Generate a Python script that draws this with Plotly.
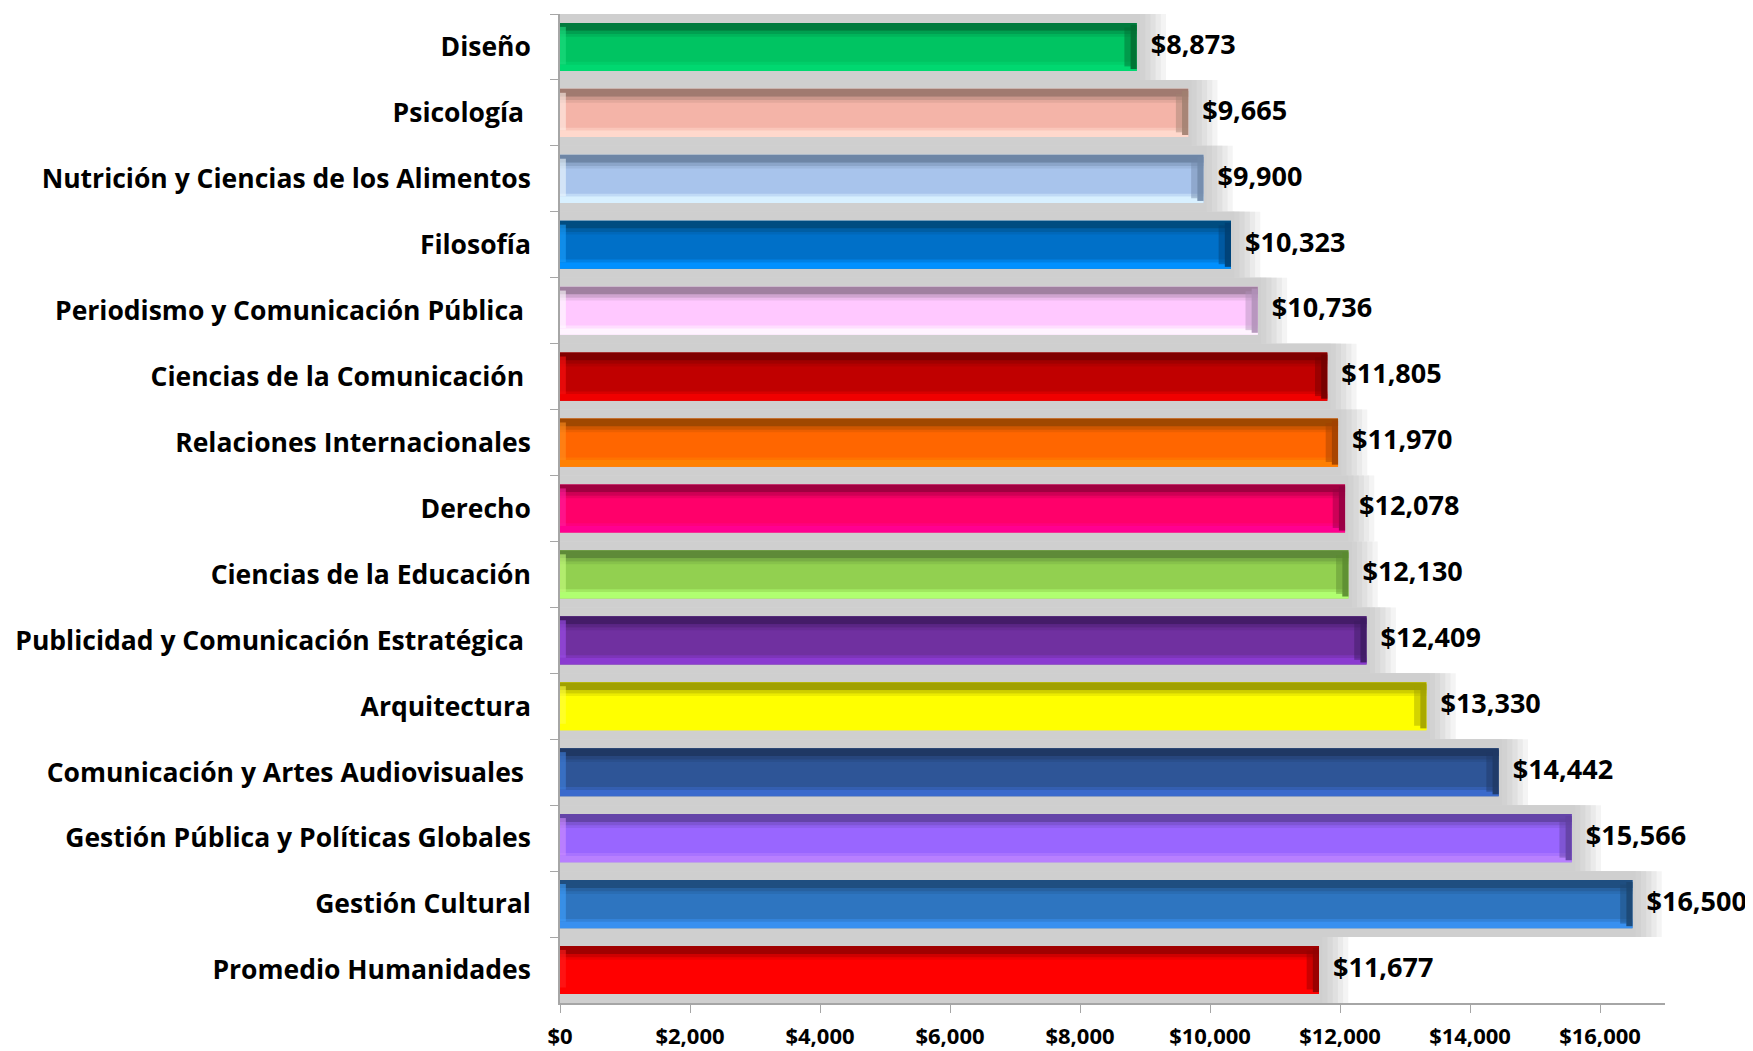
import plotly.graph_objects as go

categories = [
    "Diseño",
    "Psicología\u00a0",
    "Nutrición y Ciencias de los Alimentos",
    "Filosofía",
    "Periodismo y Comunicación Pública\u00a0",
    "Ciencias de la Comunicación\u00a0",
    "Relaciones Internacionales",
    "Derecho",
    "Ciencias de la Educación",
    "Publicidad y Comunicación Estratégica\u00a0",
    "Arquitectura",
    "Comunicación y Artes Audiovisuales\u00a0",
    "Gestión Pública y Políticas Globales",
    "Gestión Cultural",
    "Promedio Humanidades",
]
values = [8873, 9665, 9900, 10323, 10736, 11805, 11970, 12078, 12130, 12409, 13330, 14442, 15566, 16500, 11677]

main_colors = ["#00C462", "#F4B4A8", "#A8C4EC", "#0070C8", "#FFC8FF", "#C00000", "#FF6600", "#FF006A",
               "#92D050", "#7030A0", "#FFFF00", "#2E5597", "#9966FF", "#2E75C0", "#FF0000"]
top_colors = ["#007A3D", "#A07A70", "#6E86A6", "#004C80", "#A080A0", "#800000", "#A04800", "#A00040",
              "#5E8A38", "#441C68", "#A0A000", "#1F3864", "#6444A8", "#1F4E80", "#A00000"]
bottom_colors = ["#00D870", "#FFD8CC", "#D8F0FF", "#0090FF", "#FFF4FF", "#F00000", "#FF8000", "#FF0090",
                 "#B0FF70", "#8A3AD0", "#FFFF00", "#3A6ACC", "#B880FF", "#3890F0", "#FF0000"]
end_colors = ["#006A30", "#A08070", "#7088A8", "#003E70", "#B090B8", "#700000", "#A04000", "#900040",
              "#5A8A30", "#3C1A60", "#A0A000", "#1F3864", "#6040A0", "#1C4670", "#900000"]
left_colors = ["#20E080", "#FFF0EA", "#F0FAFF", "#1AA0FF", "#FFFFFF", "#FF1010", "#FF9020", "#FF20A0",
               "#C8FF80", "#A050F0", "#FFFF40", "#4080E0", "#D090FF", "#40A0FF", "#FF2020"]

x_ticks = [0, 2000, 4000, 6000, 8000, 10000, 12000, 14000, 16000]
x_tick_labels = ["$0", "$2,000", "$4,000", "$6,000", "$8,000", "$10,000", "$12,000", "$14,000", "$16,000"]

FONT = "Open Sans"
BAR_W = 0.73
half = BAR_W / 2

fig = go.Figure()

# soft grey shadow behind each bar
for ext, col in [(450, "#F4F4F4"), (370, "#EAEAEA"), (290, "#E0E0E0"), (210, "#D8D8D8"), (130, "#D2D2D2"), (50, "#CFCFCF")]:
    fig.add_trace(go.Bar(y=categories, x=[v + ext for v in values], orientation="h", width=1.0,
                         marker=dict(color=col, line=dict(width=0)), hoverinfo="skip", showlegend=False))

# main bar
fig.add_trace(go.Bar(y=categories, x=values, orientation="h", width=BAR_W,
                     marker=dict(color=main_colors, line=dict(width=0)), showlegend=False))
# top dark strip (reversed axis: negative offset is on top)
fig.add_trace(go.Bar(y=categories, x=values, orientation="h", width=0.12, offset=-half,
                     marker=dict(color=top_colors, line=dict(width=0)), hoverinfo="skip", showlegend=False))
fig.add_trace(go.Bar(y=categories, x=values, orientation="h", width=0.05, offset=-half + 0.12,
                     marker=dict(color=top_colors, opacity=0.5, line=dict(width=0)), hoverinfo="skip", showlegend=False))
fig.add_trace(go.Bar(y=categories, x=values, orientation="h", width=0.04, offset=-half + 0.17,
                     marker=dict(color=top_colors, opacity=0.2, line=dict(width=0)), hoverinfo="skip", showlegend=False))
# bottom light strip
fig.add_trace(go.Bar(y=categories, x=values, orientation="h", width=0.10, offset=half - 0.10,
                     marker=dict(color=bottom_colors, line=dict(width=0)), hoverinfo="skip", showlegend=False))
fig.add_trace(go.Bar(y=categories, x=values, orientation="h", width=0.04, offset=half - 0.14,
                     marker=dict(color=bottom_colors, opacity=0.5, line=dict(width=0)), hoverinfo="skip", showlegend=False))
# left light bevel
fig.add_trace(go.Bar(y=categories, x=[90] * len(values), orientation="h", width=BAR_W - 0.16, offset=-half + 0.06,
                     marker=dict(color=left_colors, opacity=0.6, line=dict(width=0)), hoverinfo="skip", showlegend=False))
# right dark bevel
fig.add_trace(go.Bar(y=categories, x=[100] * len(values), base=[v - 190 for v in values], orientation="h",
                     width=BAR_W - 0.14, offset=-half + 0.07,
                     marker=dict(color=end_colors, opacity=0.45, line=dict(width=0)), hoverinfo="skip", showlegend=False))
fig.add_trace(go.Bar(y=categories, x=[95] * len(values), base=[v - 95 for v in values], orientation="h",
                     width=BAR_W - 0.06, offset=-half + 0.03,
                     marker=dict(color=end_colors, opacity=0.9, line=dict(width=0)), hoverinfo="skip", showlegend=False))

# value labels
fig.add_trace(go.Scatter(y=categories, x=values, mode="text",
                         text=["\u00a0\u00a0$" + f"{v:,}" for v in values], textposition="middle right",
                         textfont=dict(family=FONT, size=27, color="#000000", weight="bold"),
                         cliponaxis=False, hoverinfo="skip", showlegend=False))

# the page body adds an 8px offset, so the figure is sized to fit the window exactly
fig.update_layout(
    width=1745, height=1043,
    barmode="overlay",
    plot_bgcolor="#FFFFFF", paper_bgcolor="#FFFFFF",
    margin=dict(l=552, r=88, t=6, b=48, autoexpand=False),
    font=dict(family=FONT, color="#000000"),
)
fig.update_yaxes(
    range=[len(categories) - 0.5, -0.5], type="category", autorange=False, automargin=False,
    showline=True, linecolor="#A6A6A6", linewidth=1.5,
    ticks="outside", ticklen=8, tickcolor="#A6A6A6", tickson="boundaries",
    tickfont=dict(family=FONT, size=26.5, color="#000000", weight="bold"),
    ticklabelstandoff=22, showgrid=False,
)
fig.update_xaxes(
    range=[0, 17000], tickvals=x_ticks, ticktext=x_tick_labels, automargin=False,
    showline=True, linecolor="#A6A6A6", linewidth=1.5,
    ticks="outside", ticklen=8, tickcolor="#A6A6A6", ticklabelstandoff=5,
    tickfont=dict(family=FONT, size=22, color="#000000", weight="bold"),
    showgrid=False, zeroline=False,
)

fig.write_html("out.html")
